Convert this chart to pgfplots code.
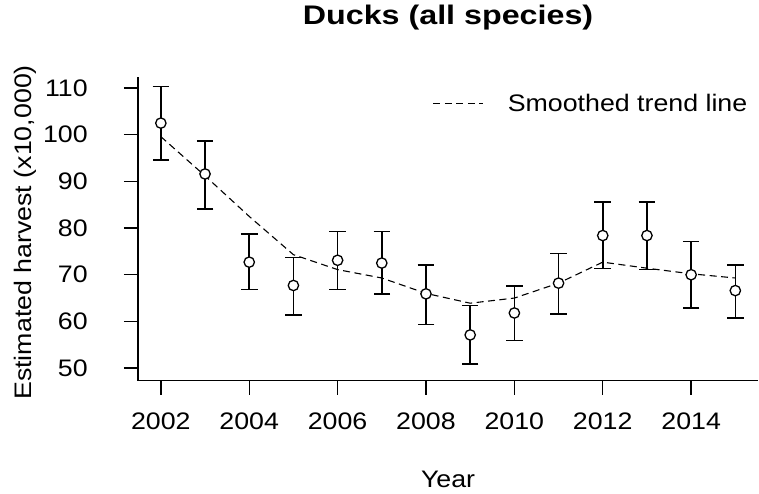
\documentclass[border=0pt]{standalone}
\usepackage{fontspec}
\setmainfont{Liberation Sans}[FakeStretch=1.12]
\newfontfamily\titlefont{Liberation Sans Bold}[FakeStretch=1.2]
\usepackage{pgfplots}
\usepackage{pgfplotstable}
\pgfplotsset{compat=1.18}
\pgfplotstableread{
year est up lo
2002 102.5 110.3 94.6
2003 91.6 98.7 84.1
2004 72.7 78.7 66.8
2005 67.7 73.7 61.4
2006 73.1 79.3 66.8
2007 72.5 79.3 65.9
2008 65.9 72.1 59.3
2009 57.1 63.4 50.9
2010 61.8 67.6 55.9
2011 68.2 74.6 61.6
2012 78.4 85.6 71.3
2013 78.4 85.6 71.1
2014 70.0 77.1 62.9
2015 66.6 72.1 60.7
}\ducks
\pgfplotstableread{
year trend
2002 99.6
2003 91.2
2004 82.5
2005 74.3
2006 71.1
2007 69.3
2008 66.0
2009 63.9
2010 65.0
2011 68.2
2012 72.7
2013 71.4
2014 70.2
2015 69.3
}\trend
\begin{document}
\begin{tikzpicture}[x=1bp,y=1bp]
\path (0,0) rectangle (759,494);
\begin{axis}[
  at={(138bp,113bp)}, anchor=south west,
  scale only axis, width=621bp, height=304bp,
  xmin=2001.48, xmax=2015.52, ymin=47.3, ymax=112.4,
  axis x line*=bottom, axis y line*=left,
  x axis line style={-}, y axis line style={-},
  axis line style={line width=1.4bp, black, -},
  xtick={2002,2004,...,2014}, ytick={50,60,...,110},
  tick align=outside, major tick length=14bp,
  tick style={line width=1.4bp, black},
  /pgf/number format/1000 sep={},
  /pgf/number format/assume math mode=true,
  ticklabel style={font=\fontsize{24}{28}\selectfont, inner sep=0pt},
  xticklabel style={anchor=north, yshift=-17.7bp},
  yticklabel style={anchor=east, xshift=-36bp},
  title={Ducks (all species)},
  title style={font=\fontsize{27}{32}\selectfont\titlefont, at={(axis description cs:0.5,1.1513)}, anchor=base, inner sep=0pt},
  xlabel={Year},
  xlabel style={font=\fontsize{24}{28}\selectfont, at={(axis description cs:0.5,-0.352)}, anchor=base, inner sep=0pt},
  ylabel={Estimated harvest (x10,000)},
  ylabel style={font=\fontsize{24}{28}\selectfont, at={(axis description cs:-0.1807,0.488)}, anchor=center, inner sep=0pt},
  clip=false,
  legend style={draw=none, fill=none, at={(axis description cs:0.475,0.9135)}, anchor=west, inner sep=0pt,
    font=\fontsize{24}{28}\selectfont, nodes={inner sep=0pt},
    /tikz/every odd column/.append style={column sep=24bp}},
  legend image code/.code={\draw[#1] (0bp,0bp) -- (50bp,0bp);},
]
\addplot[forget plot, only marks, mark=none, black,
  error bars/.cd, y dir=both, y explicit,
  error bar style={line width=1.5bp, black},
  error mark options={rotate=90, line width=1.5bp, black, mark size=8.3bp}]
  table[x=year, y=est, y error plus expr=\thisrow{up}-\thisrow{est}, y error minus expr=\thisrow{est}-\thisrow{lo}] {\ducks};
\addplot[forget plot, only marks, mark=*, mark size=5.2bp,
  mark options={draw=black, fill=white, line width=1.3bp}]
  table[x=year, y=est] {\ducks};
\addplot[black, line width=1.1bp, dash pattern=on 7bp off 4.5bp] table[x=year, y=trend] {\trend};
\addlegendentry{Smoothed trend line}
\end{axis}
\end{tikzpicture}
\end{document}
